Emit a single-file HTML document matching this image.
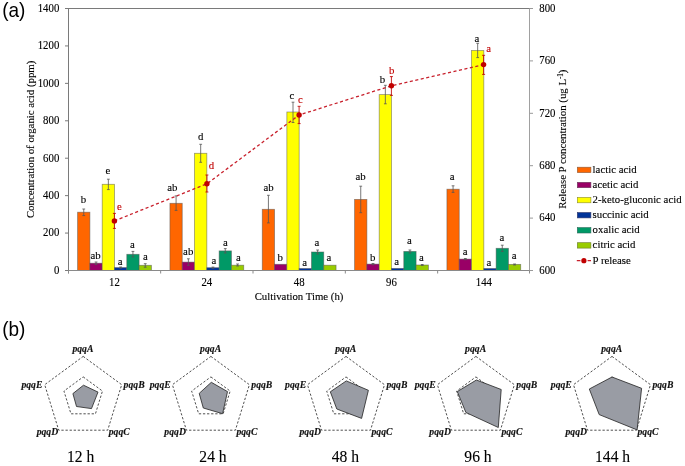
<!DOCTYPE html><html><head><meta charset="utf-8"><style>html,body{margin:0;padding:0;background:#fff;}svg{display:block;filter:blur(0.3px)}text{font-family:"Liberation Serif", serif;}</style></head><body>
<svg width="685" height="466" viewBox="0 0 685 466">
<rect width="685" height="466" fill="#fff"/>
<text transform="translate(2.2 17.1) scale(1 1.03)" style="font-family:'Liberation Sans',sans-serif" font-size="19" fill="#000">(a)</text>
<rect x="77.60" y="212.20" width="12.30" height="58.30" fill="#FF6600" stroke="#555" stroke-opacity="0.6" stroke-width="0.8"/>
<rect x="89.90" y="263.20" width="12.30" height="7.30" fill="#990066" stroke="#555" stroke-opacity="0.6" stroke-width="0.8"/>
<rect x="102.20" y="184.30" width="12.30" height="86.20" fill="#FFFF00" stroke="#555" stroke-opacity="0.6" stroke-width="0.8"/>
<rect x="114.50" y="267.60" width="12.30" height="2.90" fill="#003399" stroke="#555" stroke-opacity="0.6" stroke-width="0.8"/>
<rect x="126.80" y="254.30" width="12.30" height="16.20" fill="#009966" stroke="#555" stroke-opacity="0.6" stroke-width="0.8"/>
<rect x="139.10" y="265.30" width="12.30" height="5.20" fill="#99CC00" stroke="#555" stroke-opacity="0.6" stroke-width="0.8"/>
<rect x="169.93" y="203.30" width="12.30" height="67.20" fill="#FF6600" stroke="#555" stroke-opacity="0.6" stroke-width="0.8"/>
<rect x="182.23" y="262.10" width="12.30" height="8.40" fill="#990066" stroke="#555" stroke-opacity="0.6" stroke-width="0.8"/>
<rect x="194.53" y="153.30" width="12.30" height="117.20" fill="#FFFF00" stroke="#555" stroke-opacity="0.6" stroke-width="0.8"/>
<rect x="206.83" y="267.70" width="12.30" height="2.80" fill="#003399" stroke="#555" stroke-opacity="0.6" stroke-width="0.8"/>
<rect x="219.13" y="250.90" width="12.30" height="19.60" fill="#009966" stroke="#555" stroke-opacity="0.6" stroke-width="0.8"/>
<rect x="231.43" y="265.20" width="12.30" height="5.30" fill="#99CC00" stroke="#555" stroke-opacity="0.6" stroke-width="0.8"/>
<rect x="262.26" y="209.30" width="12.30" height="61.20" fill="#FF6600" stroke="#555" stroke-opacity="0.6" stroke-width="0.8"/>
<rect x="274.56" y="264.30" width="12.30" height="6.20" fill="#990066" stroke="#555" stroke-opacity="0.6" stroke-width="0.8"/>
<rect x="286.86" y="112.00" width="12.30" height="158.50" fill="#FFFF00" stroke="#555" stroke-opacity="0.6" stroke-width="0.8"/>
<rect x="299.16" y="268.50" width="12.30" height="2.00" fill="#003399" stroke="#555" stroke-opacity="0.6" stroke-width="0.8"/>
<rect x="311.46" y="252.00" width="12.30" height="18.50" fill="#009966" stroke="#555" stroke-opacity="0.6" stroke-width="0.8"/>
<rect x="323.76" y="265.20" width="12.30" height="5.30" fill="#99CC00" stroke="#555" stroke-opacity="0.6" stroke-width="0.8"/>
<rect x="354.59" y="199.40" width="12.30" height="71.10" fill="#FF6600" stroke="#555" stroke-opacity="0.6" stroke-width="0.8"/>
<rect x="366.89" y="264.10" width="12.30" height="6.40" fill="#990066" stroke="#555" stroke-opacity="0.6" stroke-width="0.8"/>
<rect x="379.19" y="94.60" width="12.30" height="175.90" fill="#FFFF00" stroke="#555" stroke-opacity="0.6" stroke-width="0.8"/>
<rect x="391.49" y="268.40" width="12.30" height="2.10" fill="#003399" stroke="#555" stroke-opacity="0.6" stroke-width="0.8"/>
<rect x="403.79" y="251.40" width="12.30" height="19.10" fill="#009966" stroke="#555" stroke-opacity="0.6" stroke-width="0.8"/>
<rect x="416.09" y="265.00" width="12.30" height="5.50" fill="#99CC00" stroke="#555" stroke-opacity="0.6" stroke-width="0.8"/>
<rect x="446.92" y="189.20" width="12.30" height="81.30" fill="#FF6600" stroke="#555" stroke-opacity="0.6" stroke-width="0.8"/>
<rect x="459.22" y="259.10" width="12.30" height="11.40" fill="#990066" stroke="#555" stroke-opacity="0.6" stroke-width="0.8"/>
<rect x="471.52" y="50.50" width="12.30" height="220.00" fill="#FFFF00" stroke="#555" stroke-opacity="0.6" stroke-width="0.8"/>
<rect x="483.82" y="268.50" width="12.30" height="2.00" fill="#003399" stroke="#555" stroke-opacity="0.6" stroke-width="0.8"/>
<rect x="496.12" y="248.30" width="12.30" height="22.20" fill="#009966" stroke="#555" stroke-opacity="0.6" stroke-width="0.8"/>
<rect x="508.42" y="264.40" width="12.30" height="6.10" fill="#99CC00" stroke="#555" stroke-opacity="0.6" stroke-width="0.8"/>
<path d="M83.75 209V215.6M82.35 209h2.8M82.35 215.6h2.8" stroke="#555" stroke-width="0.8" fill="none"/>
<path d="M96.05 262V264.5M94.65 262h2.8M94.65 264.5h2.8" stroke="#555" stroke-width="0.8" fill="none"/>
<path d="M108.35 179.2V189.6M106.95 179.2h2.8M106.95 189.6h2.8" stroke="#555" stroke-width="0.8" fill="none"/>
<path d="M120.65 267V268.2M119.25 267h2.8M119.25 268.2h2.8" stroke="#555" stroke-width="0.8" fill="none"/>
<path d="M132.95 251.4V256.9M131.55 251.4h2.8M131.55 256.9h2.8" stroke="#555" stroke-width="0.8" fill="none"/>
<path d="M145.25 263.7V267.2M143.85 263.7h2.8M143.85 267.2h2.8" stroke="#555" stroke-width="0.8" fill="none"/>
<path d="M176.08 195.9V210.4M174.68 195.9h2.8M174.68 210.4h2.8" stroke="#555" stroke-width="0.8" fill="none"/>
<path d="M188.38 258.8V265.3M186.98 258.8h2.8M186.98 265.3h2.8" stroke="#555" stroke-width="0.8" fill="none"/>
<path d="M200.68 144.3V162.3M199.28 144.3h2.8M199.28 162.3h2.8" stroke="#555" stroke-width="0.8" fill="none"/>
<path d="M212.98 267.1V268.3M211.58 267.1h2.8M211.58 268.3h2.8" stroke="#555" stroke-width="0.8" fill="none"/>
<path d="M225.28 248.6V253M223.88 248.6h2.8M223.88 253h2.8" stroke="#555" stroke-width="0.8" fill="none"/>
<path d="M237.58 264V266M236.18 264h2.8M236.18 266h2.8" stroke="#555" stroke-width="0.8" fill="none"/>
<path d="M268.41 195.3V222.9M267.01 195.3h2.8M267.01 222.9h2.8" stroke="#555" stroke-width="0.8" fill="none"/>
<path d="M293.01 102.2V122.5M291.61 102.2h2.8M291.61 122.5h2.8" stroke="#555" stroke-width="0.8" fill="none"/>
<path d="M317.61 250V254M316.21 250h2.8M316.21 254h2.8" stroke="#555" stroke-width="0.8" fill="none"/>
<path d="M360.74 186.2V212.7M359.34 186.2h2.8M359.34 212.7h2.8" stroke="#555" stroke-width="0.8" fill="none"/>
<path d="M373.04 263.5V264.7M371.64 263.5h2.8M371.64 264.7h2.8" stroke="#555" stroke-width="0.8" fill="none"/>
<path d="M385.34 85.3V103.8M383.94 85.3h2.8M383.94 103.8h2.8" stroke="#555" stroke-width="0.8" fill="none"/>
<path d="M409.94 250V253M408.54 250h2.8M408.54 253h2.8" stroke="#555" stroke-width="0.8" fill="none"/>
<path d="M422.24 264.5V265.5M420.84 264.5h2.8M420.84 265.5h2.8" stroke="#555" stroke-width="0.8" fill="none"/>
<path d="M453.07 185.8V192.4M451.67 185.8h2.8M451.67 192.4h2.8" stroke="#555" stroke-width="0.8" fill="none"/>
<path d="M465.37 258.5V259.7M463.97 258.5h2.8M463.97 259.7h2.8" stroke="#555" stroke-width="0.8" fill="none"/>
<path d="M477.67 43.3V57.6M476.27 43.3h2.8M476.27 57.6h2.8" stroke="#555" stroke-width="0.8" fill="none"/>
<path d="M502.27 245.2V251.4M500.87 245.2h2.8M500.87 251.4h2.8" stroke="#555" stroke-width="0.8" fill="none"/>
<path d="M514.57 264V265M513.17 264h2.8M513.17 265h2.8" stroke="#555" stroke-width="0.8" fill="none"/>
<text transform="translate(83.50 203.30) scale(1 1.03)" font-size="10.8" text-anchor="middle" fill="#000" stroke="#000" stroke-width="0.12" >b</text>
<text transform="translate(95.50 259.10) scale(1 1.03)" font-size="10.8" text-anchor="middle" fill="#000" stroke="#000" stroke-width="0.12" >ab</text>
<text transform="translate(107.90 174.10) scale(1 1.03)" font-size="10.8" text-anchor="middle" fill="#000" stroke="#000" stroke-width="0.12" >e</text>
<text transform="translate(120.20 265.10) scale(1 1.03)" font-size="10.8" text-anchor="middle" fill="#000" stroke="#000" stroke-width="0.12" >a</text>
<text transform="translate(132.50 248.10) scale(1 1.03)" font-size="10.8" text-anchor="middle" fill="#000" stroke="#000" stroke-width="0.12" >a</text>
<text transform="translate(145.30 259.70) scale(1 1.03)" font-size="10.8" text-anchor="middle" fill="#000" stroke="#000" stroke-width="0.12" >a</text>
<text transform="translate(172.30 191.40) scale(1 1.03)" font-size="10.8" text-anchor="middle" fill="#000" stroke="#000" stroke-width="0.12" >ab</text>
<text transform="translate(188.20 254.50) scale(1 1.03)" font-size="10.8" text-anchor="middle" fill="#000" stroke="#000" stroke-width="0.12" >ab</text>
<text transform="translate(200.60 139.90) scale(1 1.03)" font-size="10.8" text-anchor="middle" fill="#000" stroke="#000" stroke-width="0.12" >d</text>
<text transform="translate(214.00 264.10) scale(1 1.03)" font-size="10.8" text-anchor="middle" fill="#000" stroke="#000" stroke-width="0.12" >a</text>
<text transform="translate(225.50 245.50) scale(1 1.03)" font-size="10.8" text-anchor="middle" fill="#000" stroke="#000" stroke-width="0.12" >a</text>
<text transform="translate(238.40 260.90) scale(1 1.03)" font-size="10.8" text-anchor="middle" fill="#000" stroke="#000" stroke-width="0.12" >a</text>
<text transform="translate(268.50 191.10) scale(1 1.03)" font-size="10.8" text-anchor="middle" fill="#000" stroke="#000" stroke-width="0.12" >ab</text>
<text transform="translate(280.20 261.30) scale(1 1.03)" font-size="10.8" text-anchor="middle" fill="#000" stroke="#000" stroke-width="0.12" >b</text>
<text transform="translate(292.00 98.90) scale(1 1.03)" font-size="10.8" text-anchor="middle" fill="#000" stroke="#000" stroke-width="0.12" >c</text>
<text transform="translate(304.70 265.50) scale(1 1.03)" font-size="10.8" text-anchor="middle" fill="#000" stroke="#000" stroke-width="0.12" >a</text>
<text transform="translate(317.00 245.80) scale(1 1.03)" font-size="10.8" text-anchor="middle" fill="#000" stroke="#000" stroke-width="0.12" >a</text>
<text transform="translate(329.00 261.30) scale(1 1.03)" font-size="10.8" text-anchor="middle" fill="#000" stroke="#000" stroke-width="0.12" >a</text>
<text transform="translate(360.50 179.70) scale(1 1.03)" font-size="10.8" text-anchor="middle" fill="#000" stroke="#000" stroke-width="0.12" >ab</text>
<text transform="translate(372.60 261.30) scale(1 1.03)" font-size="10.8" text-anchor="middle" fill="#000" stroke="#000" stroke-width="0.12" >b</text>
<text transform="translate(382.40 82.90) scale(1 1.03)" font-size="10.8" text-anchor="middle" fill="#000" stroke="#000" stroke-width="0.12" >b</text>
<text transform="translate(396.60 265.40) scale(1 1.03)" font-size="10.8" text-anchor="middle" fill="#000" stroke="#000" stroke-width="0.12" >a</text>
<text transform="translate(409.30 244.40) scale(1 1.03)" font-size="10.8" text-anchor="middle" fill="#000" stroke="#000" stroke-width="0.12" >a</text>
<text transform="translate(421.50 261.30) scale(1 1.03)" font-size="10.8" text-anchor="middle" fill="#000" stroke="#000" stroke-width="0.12" >a</text>
<text transform="translate(452.20 179.70) scale(1 1.03)" font-size="10.8" text-anchor="middle" fill="#000" stroke="#000" stroke-width="0.12" >a</text>
<text transform="translate(465.20 254.50) scale(1 1.03)" font-size="10.8" text-anchor="middle" fill="#000" stroke="#000" stroke-width="0.12" >a</text>
<text transform="translate(476.80 41.90) scale(1 1.03)" font-size="10.8" text-anchor="middle" fill="#000" stroke="#000" stroke-width="0.12" >a</text>
<text transform="translate(489.00 266.30) scale(1 1.03)" font-size="10.8" text-anchor="middle" fill="#000" stroke="#000" stroke-width="0.12" >a</text>
<text transform="translate(501.90 240.90) scale(1 1.03)" font-size="10.8" text-anchor="middle" fill="#000" stroke="#000" stroke-width="0.12" >a</text>
<text transform="translate(514.10 259.20) scale(1 1.03)" font-size="10.8" text-anchor="middle" fill="#000" stroke="#000" stroke-width="0.12" >a</text>
<path d="M65 8.5H533" stroke="#7a7a7a" stroke-width="1" fill="none"/>
<path d="M68.5 8.5V273.3" stroke="#7a7a7a" stroke-width="1" fill="none"/>
<path d="M65 270.5H533" stroke="#8a8a8a" stroke-width="1" fill="none"/>
<path d="M529.5 8.5V270.5" stroke="#a0a0a0" stroke-width="1" fill="none"/>
<path d="M65 270.50H68.5" stroke="#7a7a7a" stroke-width="1"/>
<text transform="translate(59.30 273.80) scale(1 1.12)" font-size="10.8" text-anchor="end" fill="#000" stroke="#000" stroke-width="0.12" >0</text>
<path d="M65 233.07H68.5" stroke="#7a7a7a" stroke-width="1"/>
<text transform="translate(59.30 236.37) scale(1 1.12)" font-size="10.8" text-anchor="end" fill="#000" stroke="#000" stroke-width="0.12" >200</text>
<path d="M65 195.64H68.5" stroke="#7a7a7a" stroke-width="1"/>
<text transform="translate(59.30 198.94) scale(1 1.12)" font-size="10.8" text-anchor="end" fill="#000" stroke="#000" stroke-width="0.12" >400</text>
<path d="M65 158.21H68.5" stroke="#7a7a7a" stroke-width="1"/>
<text transform="translate(59.30 161.51) scale(1 1.12)" font-size="10.8" text-anchor="end" fill="#000" stroke="#000" stroke-width="0.12" >600</text>
<path d="M65 120.79H68.5" stroke="#7a7a7a" stroke-width="1"/>
<text transform="translate(59.30 124.09) scale(1 1.12)" font-size="10.8" text-anchor="end" fill="#000" stroke="#000" stroke-width="0.12" >800</text>
<path d="M65 83.36H68.5" stroke="#7a7a7a" stroke-width="1"/>
<text transform="translate(59.30 86.66) scale(1 1.12)" font-size="10.8" text-anchor="end" fill="#000" stroke="#000" stroke-width="0.12" >1000</text>
<path d="M65 45.93H68.5" stroke="#7a7a7a" stroke-width="1"/>
<text transform="translate(59.30 49.23) scale(1 1.12)" font-size="10.8" text-anchor="end" fill="#000" stroke="#000" stroke-width="0.12" >1200</text>
<path d="M65 8.50H68.5" stroke="#7a7a7a" stroke-width="1"/>
<text transform="translate(59.30 11.80) scale(1 1.12)" font-size="10.8" text-anchor="end" fill="#000" stroke="#000" stroke-width="0.12" >1400</text>
<path d="M529.5 270.50H533" stroke="#999" stroke-width="1"/>
<text transform="translate(539.30 273.80) scale(1 1.12)" font-size="10.8" text-anchor="start" fill="#000" stroke="#000" stroke-width="0.12" >600</text>
<path d="M529.5 218.10H533" stroke="#999" stroke-width="1"/>
<text transform="translate(539.30 221.40) scale(1 1.12)" font-size="10.8" text-anchor="start" fill="#000" stroke="#000" stroke-width="0.12" >640</text>
<path d="M529.5 165.70H533" stroke="#999" stroke-width="1"/>
<text transform="translate(539.30 169.00) scale(1 1.12)" font-size="10.8" text-anchor="start" fill="#000" stroke="#000" stroke-width="0.12" >680</text>
<path d="M529.5 113.30H533" stroke="#999" stroke-width="1"/>
<text transform="translate(539.30 116.60) scale(1 1.12)" font-size="10.8" text-anchor="start" fill="#000" stroke="#000" stroke-width="0.12" >720</text>
<path d="M529.5 60.90H533" stroke="#999" stroke-width="1"/>
<text transform="translate(539.30 64.20) scale(1 1.12)" font-size="10.8" text-anchor="start" fill="#000" stroke="#000" stroke-width="0.12" >760</text>
<path d="M529.5 8.50H533" stroke="#999" stroke-width="1"/>
<text transform="translate(539.30 11.80) scale(1 1.12)" font-size="10.8" text-anchor="start" fill="#000" stroke="#000" stroke-width="0.12" >800</text>
<path d="M68.50 270.5V273.5" stroke="#8a8a8a" stroke-width="1"/>
<path d="M160.66 270.5V273.5" stroke="#8a8a8a" stroke-width="1"/>
<path d="M253.00 270.5V273.5" stroke="#8a8a8a" stroke-width="1"/>
<path d="M345.32 270.5V273.5" stroke="#8a8a8a" stroke-width="1"/>
<path d="M437.65 270.5V273.5" stroke="#8a8a8a" stroke-width="1"/>
<path d="M529.50 270.5V273.5" stroke="#8a8a8a" stroke-width="1"/>
<text transform="translate(114.50 286.30) scale(1 1.1)" font-size="10.8" text-anchor="middle" fill="#000" stroke="#000" stroke-width="0.12" >12</text>
<text transform="translate(206.83 286.30) scale(1 1.1)" font-size="10.8" text-anchor="middle" fill="#000" stroke="#000" stroke-width="0.12" >24</text>
<text transform="translate(299.16 286.30) scale(1 1.1)" font-size="10.8" text-anchor="middle" fill="#000" stroke="#000" stroke-width="0.12" >48</text>
<text transform="translate(391.49 286.30) scale(1 1.1)" font-size="10.8" text-anchor="middle" fill="#000" stroke="#000" stroke-width="0.12" >96</text>
<text transform="translate(483.82 286.30) scale(1 1.1)" font-size="10.8" text-anchor="middle" fill="#000" stroke="#000" stroke-width="0.12" >144</text>
<text transform="translate(299.00 300.10) scale(1 1.03)" font-size="10.8" text-anchor="middle" fill="#000" stroke="#000" stroke-width="0.12" >Cultivation Time (h)</text>
<text transform="translate(34.20 139.40) rotate(-90) scale(1 1.03)" font-size="10.8" text-anchor="middle" fill="#000" stroke="#000" stroke-width="0.12" >Concentration of organic acid (ppm)</text>
<text transform="translate(566.40 139.10) rotate(-90) scale(1 1.03)" font-size="10.8" text-anchor="middle" fill="#000" stroke="#000" stroke-width="0.12" >Release P concentration (ug L<tspan font-size="7" dy="-3.4">-1</tspan><tspan dy="3.4">)</tspan></text>
<path d="M114.4 220.9 L206.9 183.8 L299.1 115.0 L391.4 85.8 L483.6 64.6" stroke="#c8202c" stroke-width="1.3" stroke-dasharray="3.1 2.5" fill="none"/>
<path d="M114.4 213.4V228.4M112.9 213.4h3M112.9 228.4h3" stroke="#c00000" stroke-width="0.85" fill="none"/>
<circle cx="114.4" cy="220.9" r="2.7" fill="#c00000"/>
<path d="M206.9 175V192M205.4 175h3M205.4 192h3" stroke="#c00000" stroke-width="0.85" fill="none"/>
<circle cx="206.9" cy="183.8" r="2.7" fill="#c00000"/>
<path d="M299.1 106.3V123.6M297.6 106.3h3M297.6 123.6h3" stroke="#c00000" stroke-width="0.85" fill="none"/>
<circle cx="299.1" cy="115.0" r="2.7" fill="#c00000"/>
<path d="M391.4 76.6V95.4M389.9 76.6h3M389.9 95.4h3" stroke="#c00000" stroke-width="0.85" fill="none"/>
<circle cx="391.4" cy="85.8" r="2.7" fill="#c00000"/>
<path d="M483.6 55.3V74.4M482.1 55.3h3M482.1 74.4h3" stroke="#c00000" stroke-width="0.85" fill="none"/>
<circle cx="483.6" cy="64.6" r="2.7" fill="#c00000"/>
<text transform="translate(119.50 209.60) scale(1 1.03)" font-size="10.8" text-anchor="middle" fill="#c00000" stroke="#c00000" stroke-width="0.12" >e</text>
<text transform="translate(211.40 169.40) scale(1 1.03)" font-size="10.8" text-anchor="middle" fill="#c00000" stroke="#c00000" stroke-width="0.12" >d</text>
<text transform="translate(300.30 102.90) scale(1 1.03)" font-size="10.8" text-anchor="middle" fill="#c00000" stroke="#c00000" stroke-width="0.12" >c</text>
<text transform="translate(391.60 73.60) scale(1 1.03)" font-size="10.8" text-anchor="middle" fill="#c00000" stroke="#c00000" stroke-width="0.12" >b</text>
<text transform="translate(488.60 51.90) scale(1 1.03)" font-size="10.8" text-anchor="middle" fill="#c00000" stroke="#c00000" stroke-width="0.12" >a</text>
<rect x="577.3" y="167.20" width="13.6" height="5.4" fill="#FF6600" stroke="#8a5a3a" stroke-width="0.6"/>
<text transform="translate(592.60 172.80) scale(1 1.03)" font-size="10.8" text-anchor="start" fill="#000" stroke="#000" stroke-width="0.12" >lactic acid</text>
<rect x="577.3" y="182.30" width="13.6" height="5.4" fill="#990066" stroke="#6a3a5a" stroke-width="0.6"/>
<text transform="translate(592.60 187.90) scale(1 1.03)" font-size="10.8" text-anchor="start" fill="#000" stroke="#000" stroke-width="0.12" >acetic acid</text>
<rect x="577.3" y="197.40" width="13.6" height="5.4" fill="#FFFF00" stroke="#8a8a30" stroke-width="0.6"/>
<text transform="translate(592.60 203.00) scale(1 1.03)" font-size="10.8" text-anchor="start" fill="#000" stroke="#000" stroke-width="0.12" >2-keto-gluconic acid</text>
<rect x="577.3" y="212.50" width="13.6" height="5.4" fill="#003399" stroke="#333a6a" stroke-width="0.6"/>
<text transform="translate(592.60 218.10) scale(1 1.03)" font-size="10.8" text-anchor="start" fill="#000" stroke="#000" stroke-width="0.12" >succinic acid</text>
<rect x="577.3" y="227.60" width="13.6" height="5.4" fill="#009966" stroke="#2a6a5a" stroke-width="0.6"/>
<text transform="translate(592.60 233.20) scale(1 1.03)" font-size="10.8" text-anchor="start" fill="#000" stroke="#000" stroke-width="0.12" >oxalic acid</text>
<rect x="577.3" y="242.70" width="13.6" height="5.4" fill="#99CC00" stroke="#6a7a2a" stroke-width="0.6"/>
<text transform="translate(592.60 248.30) scale(1 1.03)" font-size="10.8" text-anchor="start" fill="#000" stroke="#000" stroke-width="0.12" >citric acid</text>
<path d="M576.8 260.70H580.4M587.6 260.70H591" stroke="#c8202c" stroke-width="1.3"/>
<circle cx="583.9" cy="260.70" r="2.6" fill="#c00000"/>
<text transform="translate(592.60 264.20) scale(1 1.03)" font-size="10.8" text-anchor="start" fill="#000" stroke="#000" stroke-width="0.12" >P release</text>
<text transform="translate(2.2 336.1) scale(1 1.03)" style="font-family:'Liberation Sans',sans-serif" font-size="19" fill="#000">(b)</text>
<polygon points="83.20,356.40 121.70,384.70 107.70,430.20 58.70,430.20 44.70,384.70" fill="none" stroke="#222" stroke-width="0.8" stroke-dasharray="2.3 1.8"/>
<polygon points="83.20,376.90 102.45,391.05 95.45,413.80 70.95,413.80 63.95,391.05" fill="none" stroke="#222" stroke-width="0.8" stroke-dasharray="2.3 1.8"/>
<polygon points="83.5,385.2 98,392.1 91.5,408.6 76.5,406.5 72.9,393.6" fill="#999ca4" stroke="#222" stroke-width="0.8"/>
<text x="82.90" y="352.40" font-size="9.7" font-weight="bold" font-style="italic" fill="#111" stroke="#111" stroke-width="0.15" text-anchor="middle">pqqA</text>
<text x="123.60" y="387.60" font-size="9.7" font-weight="bold" font-style="italic" fill="#111" stroke="#111" stroke-width="0.15">pqqB</text>
<text x="108.70" y="434.70" font-size="9.7" font-weight="bold" font-style="italic" fill="#111" stroke="#111" stroke-width="0.15">pqqC</text>
<text x="58.20" y="434.70" font-size="9.7" font-weight="bold" font-style="italic" fill="#111" stroke="#111" stroke-width="0.15" text-anchor="end">pqqD</text>
<text x="42.40" y="387.60" font-size="9.7" font-weight="bold" font-style="italic" fill="#111" stroke="#111" stroke-width="0.15" text-anchor="end">pqqE</text>
<text transform="translate(80.70 462.30) scale(1 1.03)" font-size="15.6" text-anchor="middle" fill="#000" stroke="#000" stroke-width="0.12" >12 h</text>
<polygon points="210.90,356.40 249.40,384.70 235.40,430.20 186.40,430.20 172.40,384.70" fill="none" stroke="#222" stroke-width="0.8" stroke-dasharray="2.3 1.8"/>
<polygon points="210.90,376.90 230.15,391.05 223.15,413.80 198.65,413.80 191.65,391.05" fill="none" stroke="#222" stroke-width="0.8" stroke-dasharray="2.3 1.8"/>
<polygon points="211.3,382.3 227.5,391.6 222.6,413.7 203.3,408 199.2,393.4" fill="#999ca4" stroke="#222" stroke-width="0.8"/>
<text x="210.60" y="352.40" font-size="9.7" font-weight="bold" font-style="italic" fill="#111" stroke="#111" stroke-width="0.15" text-anchor="middle">pqqA</text>
<text x="251.30" y="387.60" font-size="9.7" font-weight="bold" font-style="italic" fill="#111" stroke="#111" stroke-width="0.15">pqqB</text>
<text x="236.40" y="434.70" font-size="9.7" font-weight="bold" font-style="italic" fill="#111" stroke="#111" stroke-width="0.15">pqqC</text>
<text x="185.90" y="434.70" font-size="9.7" font-weight="bold" font-style="italic" fill="#111" stroke="#111" stroke-width="0.15" text-anchor="end">pqqD</text>
<text x="170.70" y="387.60" font-size="9.7" font-weight="bold" font-style="italic" fill="#111" stroke="#111" stroke-width="0.15" text-anchor="end">pqqE</text>
<text transform="translate(213.00 462.30) scale(1 1.03)" font-size="15.6" text-anchor="middle" fill="#000" stroke="#000" stroke-width="0.12" >24 h</text>
<polygon points="346.00,356.40 384.50,384.70 370.50,430.20 321.50,430.20 307.50,384.70" fill="none" stroke="#222" stroke-width="0.8" stroke-dasharray="2.3 1.8"/>
<polygon points="346.00,376.90 365.25,391.05 358.25,413.80 333.75,413.80 326.75,391.05" fill="none" stroke="#222" stroke-width="0.8" stroke-dasharray="2.3 1.8"/>
<polygon points="346.3,380.9 368.4,390.3 361.6,418.4 336.8,409 330.3,391.8" fill="#999ca4" stroke="#222" stroke-width="0.8"/>
<text x="345.70" y="352.40" font-size="9.7" font-weight="bold" font-style="italic" fill="#111" stroke="#111" stroke-width="0.15" text-anchor="middle">pqqA</text>
<text x="386.40" y="387.60" font-size="9.7" font-weight="bold" font-style="italic" fill="#111" stroke="#111" stroke-width="0.15">pqqB</text>
<text x="371.50" y="434.70" font-size="9.7" font-weight="bold" font-style="italic" fill="#111" stroke="#111" stroke-width="0.15">pqqC</text>
<text x="321.00" y="434.70" font-size="9.7" font-weight="bold" font-style="italic" fill="#111" stroke="#111" stroke-width="0.15" text-anchor="end">pqqD</text>
<text x="306.10" y="387.60" font-size="9.7" font-weight="bold" font-style="italic" fill="#111" stroke="#111" stroke-width="0.15" text-anchor="end">pqqE</text>
<text transform="translate(345.30 462.30) scale(1 1.03)" font-size="15.6" text-anchor="middle" fill="#000" stroke="#000" stroke-width="0.12" >48 h</text>
<polygon points="475.90,356.40 514.40,384.70 500.40,430.20 451.40,430.20 437.40,384.70" fill="none" stroke="#222" stroke-width="0.8" stroke-dasharray="2.3 1.8"/>
<polygon points="475.90,376.90 495.15,391.05 488.15,413.80 463.65,413.80 456.65,391.05" fill="none" stroke="#222" stroke-width="0.8" stroke-dasharray="2.3 1.8"/>
<polygon points="476.4,380 501.2,389.5 498.3,427.5 465.9,412.5 457.3,391.6" fill="#999ca4" stroke="#222" stroke-width="0.8"/>
<text x="475.60" y="352.40" font-size="9.7" font-weight="bold" font-style="italic" fill="#111" stroke="#111" stroke-width="0.15" text-anchor="middle">pqqA</text>
<text x="516.30" y="387.60" font-size="9.7" font-weight="bold" font-style="italic" fill="#111" stroke="#111" stroke-width="0.15">pqqB</text>
<text x="501.40" y="434.70" font-size="9.7" font-weight="bold" font-style="italic" fill="#111" stroke="#111" stroke-width="0.15">pqqC</text>
<text x="450.90" y="434.70" font-size="9.7" font-weight="bold" font-style="italic" fill="#111" stroke="#111" stroke-width="0.15" text-anchor="end">pqqD</text>
<text x="435.70" y="387.60" font-size="9.7" font-weight="bold" font-style="italic" fill="#111" stroke="#111" stroke-width="0.15" text-anchor="end">pqqE</text>
<text transform="translate(478.00 462.30) scale(1 1.03)" font-size="15.6" text-anchor="middle" fill="#000" stroke="#000" stroke-width="0.12" >96 h</text>
<polygon points="612.00,356.40 650.50,384.70 636.50,430.20 587.50,430.20 573.50,384.70" fill="none" stroke="#222" stroke-width="0.8" stroke-dasharray="2.3 1.8"/>
<polygon points="612.00,376.90 631.25,391.05 624.25,413.80 599.75,413.80 592.75,391.05" fill="none" stroke="#222" stroke-width="0.8" stroke-dasharray="2.3 1.8"/>
<polygon points="612,377 641.6,388.3 637.1,429.9 599.2,414.6 589.3,389" fill="#999ca4" stroke="#222" stroke-width="0.8"/>
<text x="611.70" y="352.40" font-size="9.7" font-weight="bold" font-style="italic" fill="#111" stroke="#111" stroke-width="0.15" text-anchor="middle">pqqA</text>
<text x="652.40" y="387.60" font-size="9.7" font-weight="bold" font-style="italic" fill="#111" stroke="#111" stroke-width="0.15">pqqB</text>
<text x="637.50" y="434.70" font-size="9.7" font-weight="bold" font-style="italic" fill="#111" stroke="#111" stroke-width="0.15">pqqC</text>
<text x="587.00" y="434.70" font-size="9.7" font-weight="bold" font-style="italic" fill="#111" stroke="#111" stroke-width="0.15" text-anchor="end">pqqD</text>
<text x="571.80" y="387.60" font-size="9.7" font-weight="bold" font-style="italic" fill="#111" stroke="#111" stroke-width="0.15" text-anchor="end">pqqE</text>
<text transform="translate(612.60 462.30) scale(1 1.03)" font-size="15.6" text-anchor="middle" fill="#000" stroke="#000" stroke-width="0.12" >144 h</text>
</svg></body></html>
